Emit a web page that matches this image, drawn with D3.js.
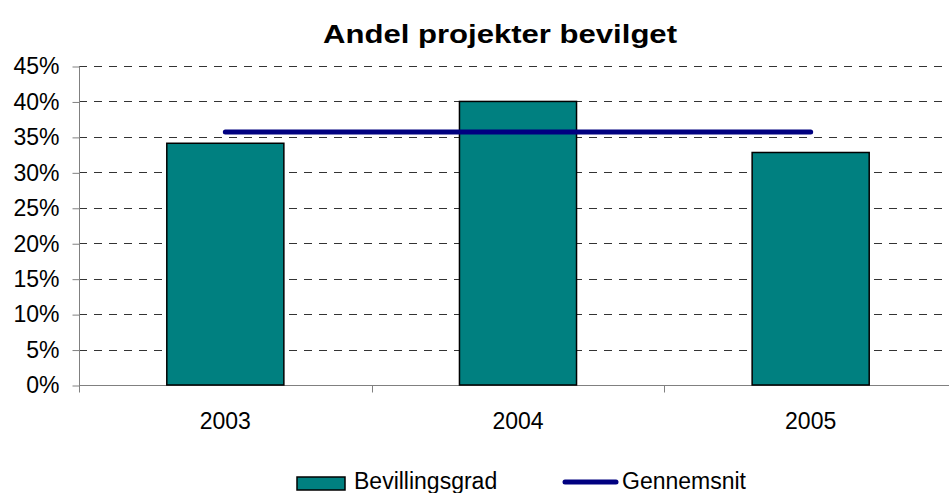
<!DOCTYPE html>
<html>
<head>
<meta charset="utf-8">
<script src="https://cdn.jsdelivr.net/npm/d3@7"></script>
<style>
  body { margin: 0; background: #fff; }
  svg { display: block; font-family: "Liberation Sans", Arial, sans-serif; }
</style>
</head>
<body>
<svg id="chart"></svg>
<script>
var years = ["2003", "2004", "2005"];
var bevillingsgrad = [34.1, 40.0, 32.8];
var gennemsnit = [35.7, 35.7, 35.7];
var yTicks = [0, 5, 10, 15, 20, 25, 30, 35, 40, 45];

var width = 949, height = 493;
var svg = d3.select("svg#chart").attr("width", width).attr("height", height);

// plot area (right edge runs past the window, as in the reference)
var plotLeft = 79, plotRight = 957, plotTop = 66, plotBottom = 385;

var x = d3.scaleBand().domain(years).range([plotLeft, plotRight]).paddingInner(0.6).paddingOuter(0.3);
var y = d3.scaleLinear().domain([0, 45]).range([plotBottom, plotTop]);

// title
svg.append("text")
  .attr("x", 500).attr("y", 43)
  .attr("text-anchor", "middle")
  .attr("font-size", 25).attr("font-weight", "bold")
  .attr("textLength", 354).attr("lengthAdjust", "spacingAndGlyphs")
  .text("Andel projekter bevilget");

// dashed gridlines
svg.append("g").selectAll("line")
  .data(yTicks.filter(function(d) { return d > 0; }))
  .enter().append("line")
    .attr("x1", plotLeft).attr("x2", plotRight)
    .attr("y1", function(d) { return Math.round(y(d)) + 0.5; })
    .attr("y2", function(d) { return Math.round(y(d)) + 0.5; })
    .attr("stroke", "#333")
    .attr("stroke-dasharray", "8,7");

// y axis
var yAxis = svg.append("g")
  .attr("transform", "translate(" + (plotLeft + 0.5) + ",0.5)")
  .call(d3.axisLeft(y).tickValues(yTicks).tickSize(7).tickPadding(13)
        .tickFormat(function(d) { return d + "%"; }));
yAxis.select(".domain").remove();
yAxis.append("line").attr("x1", 0).attr("x2", 0).attr("y1", plotTop).attr("y2", plotBottom + 7).attr("stroke", "#808080");
yAxis.selectAll(".tick line").attr("stroke", "#808080");
yAxis.selectAll(".tick text").attr("font-size", 23).attr("fill", "#000").attr("font-family", null);

// x axis: ticks at category boundaries
var xAxis = svg.append("g").attr("transform", "translate(0," + (plotBottom + 0.5) + ")");
xAxis.append("line").attr("x1", plotLeft).attr("x2", plotRight).attr("stroke", "#808080");
xAxis.selectAll(".xt")
  .data(years.slice(1))
  .enter().append("line")
    .attr("x1", function(d) { return Math.round(x(d) - x.step() * 0.3) + 0.5; })
    .attr("x2", function(d) { return Math.round(x(d) - x.step() * 0.3) + 0.5; })
    .attr("y1", 0).attr("y2", 7)
    .attr("stroke", "#808080");
xAxis.selectAll("text")
  .data(years)
  .enter().append("text")
    .attr("x", function(d) { return x(d) + x.bandwidth() / 2; })
    .attr("y", 43)
    .attr("text-anchor", "middle")
    .attr("font-size", 23)
    .text(function(d) { return d; });

// bars
svg.append("g").selectAll("rect")
  .data(years)
  .enter().append("rect")
    .attr("x", function(d) { return x(d); })
    .attr("y", function(d, i) { return y(bevillingsgrad[i]); })
    .attr("width", x.bandwidth())
    .attr("height", function(d, i) { return plotBottom - y(bevillingsgrad[i]); })
    .attr("fill", "#008080")
    .attr("stroke", "#000")
    .attr("stroke-width", 1.5);

// average line
var line = d3.line()
  .x(function(d, i) { return x(years[i]) + x.bandwidth() / 2; })
  .y(function(d) { return y(d); });
svg.append("path")
  .datum(gennemsnit)
  .attr("d", line)
  .attr("fill", "none")
  .attr("stroke", "#000080")
  .attr("stroke-width", 5)
  .attr("stroke-linecap", "round");

// legend
var legend = svg.append("g");
legend.append("rect")
  .attr("x", 297).attr("y", 477).attr("width", 48).attr("height", 13)
  .attr("fill", "#008080").attr("stroke", "#000").attr("stroke-width", 1.5);
legend.append("text").attr("x", 354).attr("y", 489).attr("font-size", 23).text("Bevillingsgrad");
legend.append("line")
  .attr("x1", 565).attr("x2", 616).attr("y1", 482).attr("y2", 482)
  .attr("stroke", "#000080").attr("stroke-width", 5).attr("stroke-linecap", "round");
legend.append("text").attr("x", 622).attr("y", 489).attr("font-size", 23).text("Gennemsnit");
</script>
</body>
</html>
